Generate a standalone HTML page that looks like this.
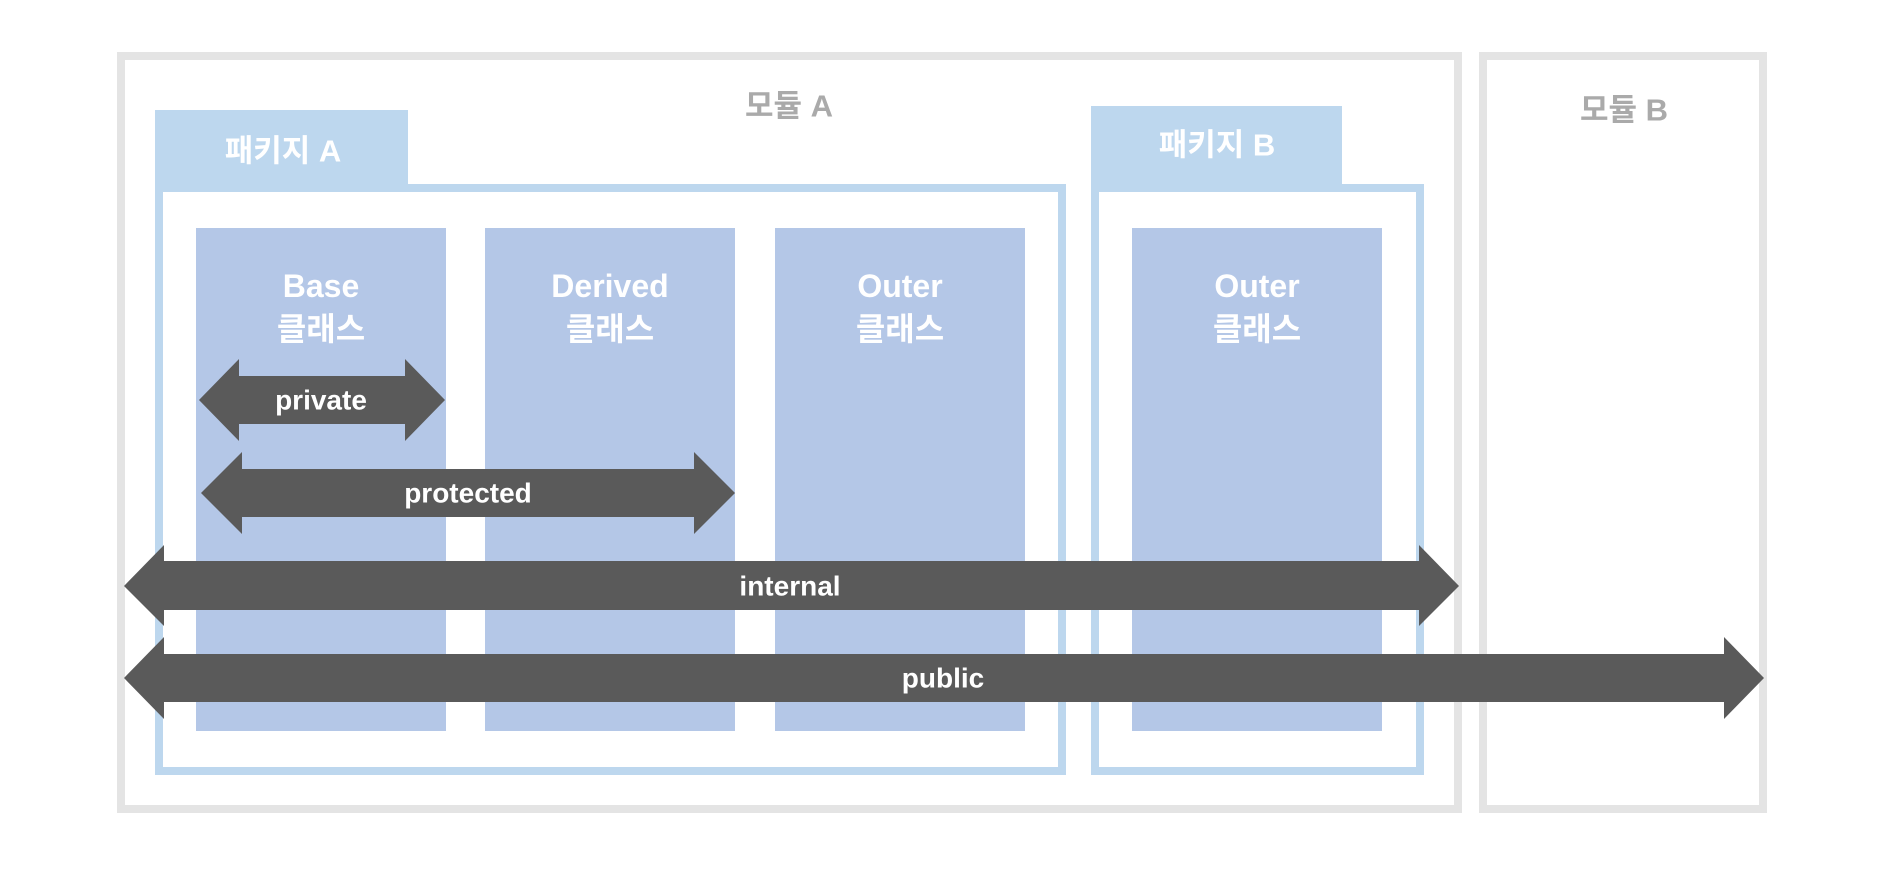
<!DOCTYPE html>
<html><head><meta charset="utf-8"><style>
html,body{margin:0;padding:0;background:#fff;width:1889px;height:881px;overflow:hidden}
svg{display:block}
text{font-family:"Liberation Sans","Noto Sans CJK KR",sans-serif;text-anchor:middle;dominant-baseline:central}
</style></head><body>
<svg width="1889" height="881" viewBox="0 0 1889 881" xmlns="http://www.w3.org/2000/svg">
<!-- modules -->
<rect x="121" y="56" width="1337" height="753" fill="#fff" stroke="#e4e4e4" stroke-width="8"/>
<rect x="1483" y="56" width="280" height="753" fill="#fff" stroke="#e4e4e4" stroke-width="8"/>
<text x="789" y="106" font-size="31" fill="#aaa" font-weight="bold">모듈 A</text>
<text x="1624" y="110" font-size="31" fill="#aaa" font-weight="bold">모듈 B</text>
<!-- package A -->
<rect x="155" y="110" width="253" height="80" fill="#bdd7ee"/>
<rect x="159" y="188" width="903" height="583" fill="#fff" stroke="#bdd7ee" stroke-width="8"/>
<text x="283" y="151" font-size="31" fill="#fff" font-weight="bold">패키지 A</text>
<!-- package B -->
<rect x="1091" y="106" width="251" height="84" fill="#bdd7ee"/>
<rect x="1095" y="188" width="325" height="583" fill="#fff" stroke="#bdd7ee" stroke-width="8"/>
<text x="1217" y="145" font-size="31" fill="#fff" font-weight="bold">패키지 B</text>
<!-- classes -->
<g fill="#b4c7e7">
<rect x="196" y="228" width="250" height="503"/>
<rect x="485" y="228" width="250" height="503"/>
<rect x="775" y="228" width="250" height="503"/>
<rect x="1132" y="228" width="250" height="503"/>
</g>
<g fill="#fff" font-size="32" font-weight="bold">
<text x="321" y="286">Base</text><text x="321" y="329">클래스</text>
<text x="610" y="286">Derived</text><text x="610" y="329">클래스</text>
<text x="900" y="286">Outer</text><text x="900" y="329">클래스</text>
<text x="1257" y="286">Outer</text><text x="1257" y="329">클래스</text>
</g>
<!-- arrows -->
<g fill="#5a5a5a">
<polygon points="199,400 239,359 239,376 405,376 405,359 445,400 405,441 405,424 239,424 239,441"/>
<polygon points="201,493 242,452 242,469 694,469 694,452 735,493 694,534 694,517 242,517 242,534"/>
<polygon points="124,586 164,545 164,561 1419,561 1419,545 1459,586 1419,626 1419,610 164,610 164,626"/>
<polygon points="124,678 164,637 164,654 1724,654 1724,637 1764,678 1724,719 1724,702 164,702 164,719"/>
</g>
<g fill="#fff" font-size="28" font-weight="bold">
<text x="321" y="400">private</text>
<text x="468" y="493">protected</text>
<text x="790" y="586">internal</text>
<text x="943" y="678">public</text>
</g>
</svg>
</body></html>
